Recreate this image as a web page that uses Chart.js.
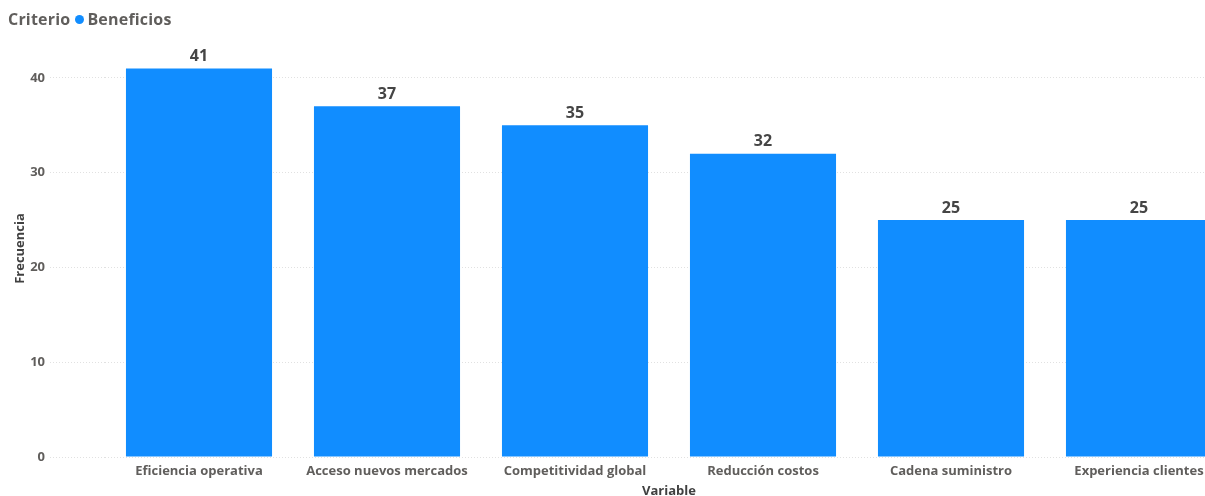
<!DOCTYPE html>
<html>
<head>
<meta charset="utf-8">
<script src="https://cdn.jsdelivr.net/npm/chart.js@4/dist/chart.umd.min.js"></script>
<style>
  html, body { margin: 0; padding: 0; background: #fff; overflow: hidden; }
  #wrap { position: relative; width: 1205px; height: 496px; overflow: hidden; }
  #legend { position: absolute; left: 8px; top: 8px; font: bold 16px "Open Sans", sans-serif; color: #605E5C; white-space: nowrap; letter-spacing: 0.2px; }
  #legend .dot { display: inline-block; width: 9px; height: 9px; border-radius: 50%; background: #118DFF; margin: 0 3px 1px 5px; }
  #legend .name { color: #605E5C; }
  #box { position: absolute; left: 0; top: 0; width: 1240px; height: 496px; }
</style>
</head>
<body>
<div id="wrap">
  <div id="box"><canvas id="barChart"></canvas></div>
  <div id="legend">Criterio<span class="dot"></span><span class="name">Beneficios</span></div>
</div>
<script>
  // Chart data
  const categories = ['Eficiencia operativa', 'Acceso nuevos mercados', 'Competitividad global', 'Reducción costos', 'Cadena suministro', 'Experiencia clientes'];
  const beneficios = [41, 37, 35, 32, 25, 25];
  const yTicks = [0, 10, 20, 30, 40];

  const fontFamily = '"Open Sans", sans-serif';

  // Draw the value above each bar
  const valueLabels = {
    id: 'valueLabels',
    afterDatasetsDraw(chart) {
      const ctx = chart.ctx;
      const meta = chart.getDatasetMeta(0);
      ctx.save();
      ctx.font = 'bold 16px ' + fontFamily;
      ctx.fillStyle = '#454545';
      ctx.textAlign = 'center';
      ctx.textBaseline = 'bottom';
      meta.data.forEach((bar, i) => {
        ctx.fillText(beneficios[i], bar.x, bar.y - 4);
      });
      ctx.restore();
    }
  };

  const barCtx = document.getElementById('barChart').getContext('2d');
  window.barChart = new Chart(barCtx, {
    type: 'bar',
    data: {
      labels: categories,
      datasets: [{
        label: 'Beneficios',
        data: beneficios,
        backgroundColor: '#118DFF',
        barPercentage: 0.777,
        categoryPercentage: 1
      }]
    },
    options: {
      responsive: true,
      maintainAspectRatio: false,
      animation: false,
      layout: { padding: { top: 40, right: 7, left: 0, bottom: 0 } },
      plugins: {
        legend: { display: false },
        tooltip: { enabled: false }
      },
      scales: {
        x: {
          grid: { display: false, drawTicks: false },
          border: { display: false },
          ticks: {
            padding: 6,
            maxRotation: 0,
            autoSkip: false,
            color: '#605E5C',
            font: { family: fontFamily, size: 13, weight: 'bold' }
          },
          title: {
            display: true,
            text: 'Variable',
            color: '#404040',
            padding: { top: 3, bottom: -3 },
            font: { family: fontFamily, size: 13, weight: 'bold' }
          },
          afterFit(scale) { scale.height = 39; }
        },
        y: {
          min: 0,
          max: 44,
          afterBuildTicks(scale) {
            scale.ticks = yTicks.map(v => ({ value: v }));
          },
          grid: {
            color: '#E1E1E1',
            tickBorderDash: [1, 2],
            tickColor: '#E1E1E1',
            tickLength: 55
          },
          border: { display: false, dash: [1, 2] },
          ticks: {
            padding: 5,
            color: '#605E5C',
            font: { family: fontFamily, size: 13, weight: 'bold' }
          },
          title: {
            display: true,
            text: 'Frecuencia',
            color: '#404040',
            padding: { top: 12, bottom: 0 },
            font: { family: fontFamily, size: 13, weight: 'bold' }
          },
          afterFit(scale) { scale.width = 105; }
        }
      }
    },
    plugins: [valueLabels]
  });
</script>
</body>
</html>
